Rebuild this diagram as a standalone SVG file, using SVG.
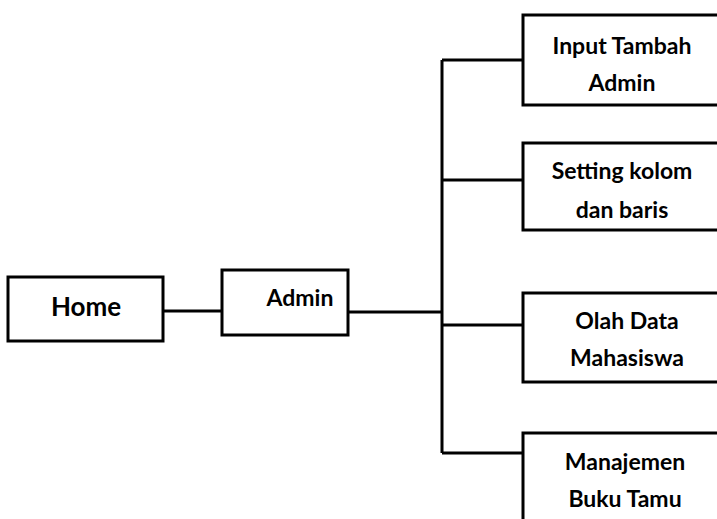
<svg xmlns="http://www.w3.org/2000/svg" width="717" height="519" viewBox="0 0 717 519">
<style>
.box{fill:#fff;stroke:#000;stroke-width:3}
.ln{fill:none;stroke:#000;stroke-width:3}
text{font-family:Lato,"Open Sans","Liberation Sans",sans-serif;font-weight:bold;font-size:23px;fill:#000;text-anchor:middle}
.big{font-size:26px}
</style>
<rect width="717" height="519" fill="#fff"/>
<g id="connectors">
<line class="ln" x1="163" y1="311" x2="222" y2="311"/>
<line class="ln" x1="348" y1="312" x2="442" y2="312"/>
<line class="ln" x1="442" y1="60" x2="442" y2="453"/>
<line class="ln" x1="442" y1="60" x2="523" y2="60"/>
<line class="ln" x1="442" y1="180" x2="523" y2="180"/>
<line class="ln" x1="442" y1="325" x2="523" y2="325"/>
<line class="ln" x1="442" y1="453" x2="523" y2="453"/>
</g>
<g id="home">
<rect class="box" x="8" y="277" width="155" height="64"/>
<text class="big" x="86" y="316">Home</text>
</g>
<g id="admin">
<rect class="box" x="222" y="270" width="126" height="65"/>
<text x="300" y="306">Admin</text>
</g>
<g id="input-tambah-admin">
<rect class="box" x="523" y="15" width="200" height="90"/>
<text x="622" y="54">Input Tambah</text>
<text x="622" y="91">Admin</text>
</g>
<g id="setting-kolom">
<rect class="box" x="523" y="143" width="200" height="87"/>
<text x="622" y="179">Setting kolom</text>
<text x="622" y="218">dan baris</text>
</g>
<g id="olah-data">
<rect class="box" x="523" y="293" width="200" height="89"/>
<text x="627" y="329">Olah Data</text>
<text x="627" y="366">Mahasiswa</text>
</g>
<g id="manajemen">
<rect class="box" x="523" y="433" width="200" height="100"/>
<text x="625" y="470">Manajemen</text>
<text x="625" y="507">Buku Tamu</text>
</g>
</svg>
